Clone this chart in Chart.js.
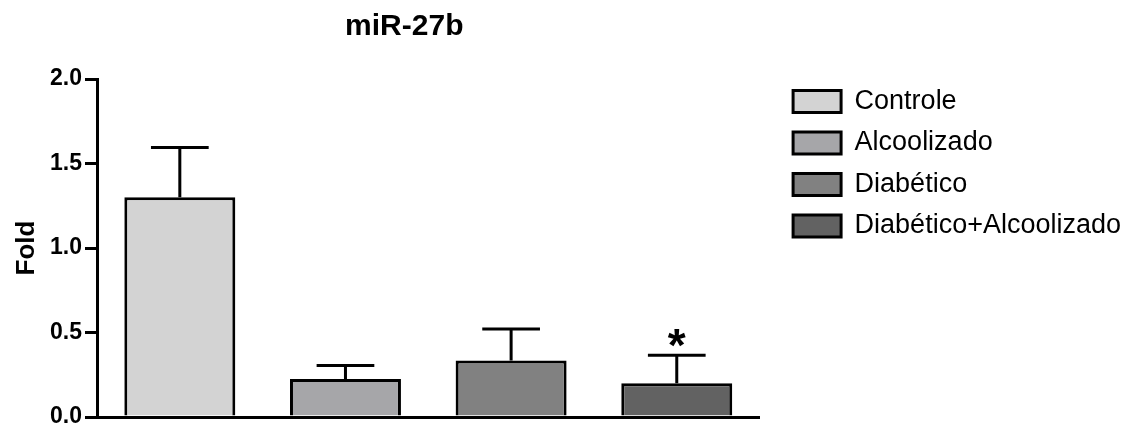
<!DOCTYPE html>
<html>
<head>
<meta charset="utf-8">
<title>miR-27b</title>
<script src="https://cdn.jsdelivr.net/npm/chart.js@4.4.1/dist/chart.umd.min.js"></script>
<style>
  body { margin: 0; background: #fff; }
  #wrap { width: 1131px; height: 428px; }
</style>
</head>
<body>
<div id="wrap"><canvas id="myChart" width="1131" height="428"></canvas></div>
<script>
'use strict';

// values
let groups = ['Controle', 'Alcoolizado', 'Diabético', 'Diabético+Alcoolizado'];
let foldMeans = [1.30, 0.225, 0.335, 0.20];
let foldErrors = [0.294, 0.079, 0.185, 0.166];
let marks = ['', '', '', '*'];
let barColors = ['#d3d3d3', '#a6a6a9', '#818181', '#626262'];
let yMin = 0;
let yMax = 2;
let yStep = 0.5;

let fontFamily = '"Liberation Sans", Arial, Helvetica, sans-serif';
Chart.defaults.font.family = fontFamily;
Chart.defaults.color = '#000';

// upper error bars and the significance star
let errorBars = {
  id: 'errorBars',
  afterDatasetsDraw(chart) {
    let ctx = chart.ctx;
    let yScale = chart.scales.y;
    let meta = chart.getDatasetMeta(0);
    ctx.save();
    ctx.strokeStyle = '#000';
    ctx.lineWidth = 3;
    meta.data.forEach(function (bar, i) {
      let top = yScale.getPixelForValue(foldMeans[i] + foldErrors[i]);
      let half = bar.width * 0.26;
      ctx.beginPath();
      ctx.moveTo(bar.x, bar.y);
      ctx.lineTo(bar.x, top);
      ctx.moveTo(bar.x - half, top);
      ctx.lineTo(bar.x + half, top);
      ctx.stroke();
      if (marks[i]) {
        ctx.fillStyle = '#000';
        ctx.font = 'bold 46px ' + fontFamily;
        ctx.textAlign = 'center';
        ctx.textBaseline = 'alphabetic';
        ctx.fillText(marks[i], bar.x, top + 6);
      }
    });
    ctx.restore();
  }
};

// small shifts of the title and legend after layout
let nudge = {
  id: 'nudge',
  afterLayout(chart) {
    chart.legend.top -= 5.5;
    chart.legend.bottom -= 5.5;
    chart.titleBlock.left -= 24;
    chart.titleBlock.right -= 24;
  }
};

let ctx = document.getElementById('myChart').getContext('2d');
let myChart = new Chart(ctx, {
  type: 'bar',
  data: {
    labels: groups,
    datasets: [{
      label: 'Fold',
      data: foldMeans,
      backgroundColor: barColors,
      borderColor: '#000',
      borderWidth: 3,
      barPercentage: 0.67,
      categoryPercentage: 1.0
    }]
  },
  options: {
    responsive: false,
    animation: false,
    layout: { padding: 0 },
    plugins: {
      title: {
        display: true,
        text: 'miR-27b',
        fullSize: false,
        font: { size: 30, weight: 'bold' },
        color: '#000',
        padding: { top: 9, bottom: 34 }
      },
      legend: {
        display: true,
        position: 'right',
        align: 'start',
        fullSize: false,
        maxWidth: 420,
        labels: {
          font: { size: 27 },
          color: '#000',
          boxWidth: 48,
          boxHeight: 22,
          padding: 14.5,
          generateLabels: function () {
            return groups.map(function (name, i) {
              return {
                text: name,
                fillStyle: barColors[i],
                strokeStyle: '#000',
                lineWidth: 3,
                hidden: false,
                index: i,
                datasetIndex: 0
              };
            });
          }
        }
      },
      tooltip: { enabled: false }
    },
    scales: {
      x: {
        type: 'category',
        grid: { display: false, drawTicks: false },
        border: { display: true, color: '#000', width: 3 },
        ticks: { display: false },
        afterFit: function (scale) { scale.height = 11; }
      },
      y: {
        min: yMin,
        max: yMax,
        ticks: {
          stepSize: yStep,
          padding: 3,
          color: '#000',
          font: { size: 23, weight: 'bold', lineHeight: 0.6 },
          callback: function (v) { return Number(v).toFixed(1); }
        },
        grid: {
          drawOnChartArea: false,
          drawTicks: true,
          tickLength: 12,
          lineWidth: 3,
          color: '#000'
        },
        border: { display: true, color: '#000', width: 3 },
        title: {
          display: true,
          text: 'Fold',
          color: '#000',
          font: { size: 26, weight: 'bold' },
          padding: { top: 11, bottom: 0 }
        },
        afterFit: function (scale) { scale.width = 97; }
      },
      gap: {
        type: 'linear',
        position: 'right',
        display: true,
        grid: { display: false, drawTicks: false },
        border: { display: false },
        ticks: { display: false },
        afterFit: function (scale) { scale.width = 19; }
      }
    }
  },
  plugins: [errorBars, nudge]
});
</script>
</body>
</html>
